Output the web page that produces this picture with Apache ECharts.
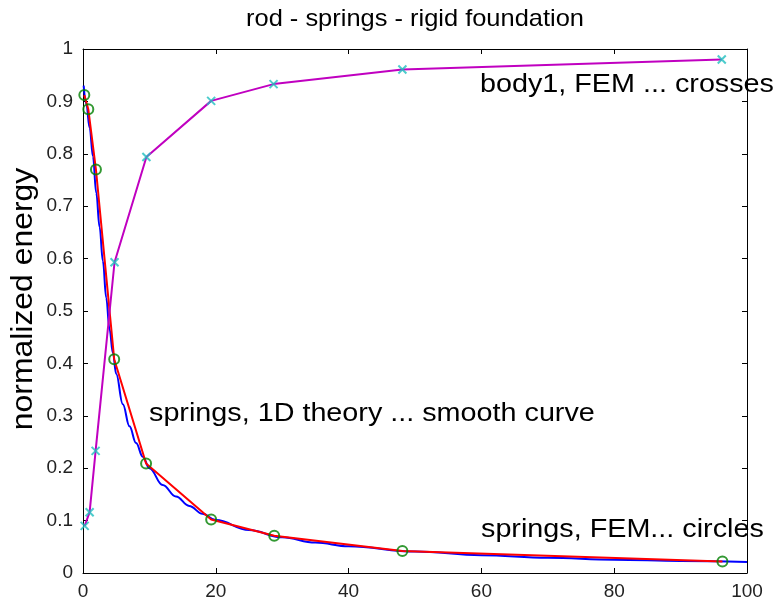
<!DOCTYPE html>
<html>
<head>
<meta charset="utf-8">
<script src="https://cdn.jsdelivr.net/npm/echarts@6/dist/echarts.min.js"></script>
<style>
  html, body { margin: 0; padding: 0; background: #fff; }
  #chart { width: 779px; height: 606px; }
</style>
</head>
<body>
<div id="chart"></div>
<script>
// axis ticks
const xTicks = [0, 20, 40, 60, 80, 100];
const yTicks = [0, 0.1, 0.2, 0.3, 0.4, 0.5, 0.6, 0.7, 0.8, 0.9, 1];

// springs, 1D theory (smooth curve)
const theoryX = [0.1, 0.5, 1, 1.5, 2, 2.5, 3, 3.5, 4, 4.5, 5, 6, 7, 8, 9, 10, 12, 14, 16, 18, 20, 25, 30, 35, 40, 50, 60, 70, 80, 90, 100];
const theoryY = [0.93, 0.895, 0.85, 0.795, 0.725, 0.66, 0.595, 0.525, 0.465, 0.42, 0.38, 0.322, 0.28, 0.248, 0.222, 0.2, 0.168, 0.146, 0.128, 0.113, 0.101, 0.082, 0.068, 0.058, 0.051, 0.041, 0.034, 0.029, 0.0255, 0.023, 0.021];

// springs, FEM (circles)
const femX = [0.2, 0.8, 1.95, 4.7, 9.5, 19.3, 28.8, 48.1, 96.3];
const femY = [0.912, 0.885, 0.77, 0.408, 0.209, 0.102, 0.071, 0.042, 0.022];

// body1, FEM (crosses)
const bodyX = [0.25, 1.0, 1.9, 4.75, 9.55, 19.3, 28.7, 48.1, 96.2];
const bodyY = [0.09, 0.116, 0.233, 0.593, 0.794, 0.901, 0.933, 0.961, 0.98];

const pairs = (xs, ys) => xs.map((x, i) => [x, ys[i]]);

const FONT = "Liberation Sans, Arial, sans-serif";
const crossPath = "path://M0,0L10,10M10,0L0,10";

const chart = echarts.init(document.getElementById("chart"), null, { renderer: "canvas" });

const baseX = {
  type: "value",
  min: xTicks[0],
  max: xTicks[xTicks.length - 1],
  interval: xTicks[1] - xTicks[0],
  splitLine: { show: false },
  axisLine: { show: true, onZero: false, lineStyle: { color: "#000", width: 1 } },
  axisTick: { show: true, inside: true, length: 5, lineStyle: { color: "#000" } },
};
const baseY = {
  type: "value",
  min: yTicks[0],
  max: yTicks[yTicks.length - 1],
  interval: 0.1,
  splitLine: { show: false },
  axisLine: { show: true, onZero: false, lineStyle: { color: "#000", width: 1 } },
  axisTick: { show: true, inside: true, length: 5, lineStyle: { color: "#000" } },
};

// text in the picture is a little wider than plain Arial
const label = (text, x, y, size, extra) => Object.assign({
  type: "text", x: x, y: y, scaleX: 1.15,
  style: { text: text, fill: "#000", font: size + "px " + FONT, textAlign: "left", textVerticalAlign: "middle" },
}, extra || {});

chart.setOption({
  animation: false,
  grid: { left: 83, right: 32, top: 49, bottom: 33 },
  xAxis: [
    Object.assign({}, baseX, {
      position: "bottom",
      axisLabel: { margin: 9, fontFamily: FONT, fontSize: 19, color: "#222" },
    }),
    Object.assign({}, baseX, { position: "top", axisLabel: { show: false } }),
  ],
  yAxis: [
    Object.assign({}, baseY, {
      position: "left",
      axisLabel: {
        margin: 10, fontFamily: FONT, fontSize: 19, color: "#222",
        formatter: (v) => String(Math.round(v * 10) / 10),
      },
    }),
    Object.assign({}, baseY, { position: "right", axisLabel: { show: false } }),
  ],
  graphic: [
    {
      type: "text", x: 415, y: 19, scaleX: 1.06,
      style: { text: "rod - springs - rigid foundation", fill: "#000", font: "24px " + FONT, textAlign: "center", textVerticalAlign: "middle" },
    },
    {
      type: "text", x: 24, y: 299, rotation: Math.PI / 2, scaleX: 1.1,
      style: { text: "normalized energy", fill: "#000", font: "29px " + FONT, textAlign: "center", textVerticalAlign: "middle" },
    },
    label("body1, FEM ... crosses", 480, 85, 25),
    label("springs, 1D theory ... smooth curve", 149, 414, 25),
    label("springs, FEM... circles", 481, 530, 25),
  ],
  series: [
    {
      name: "1D theory",
      type: "line",
      data: pairs(theoryX, theoryY),
      showSymbol: false,
      smooth: 0.4,
      smoothMonotone: "x",
      lineStyle: { color: "#0000ff", width: 2 },
      z: 2,
    },
    {
      name: "springs FEM",
      type: "line",
      data: pairs(femX, femY),
      showSymbol: false,
      lineStyle: { color: "#ff0000", width: 2 },
      z: 3,
    },
    {
      name: "springs FEM circles",
      type: "scatter",
      data: pairs(femX, femY),
      symbol: "circle",
      symbolSize: 10,
      itemStyle: { color: "rgba(0,0,0,0)", borderColor: "#008000", borderWidth: 2 },
      z: 4,
    },
    {
      name: "body1 FEM",
      type: "line",
      data: pairs(bodyX, bodyY),
      showSymbol: false,
      lineStyle: { color: "#c000c0", width: 2 },
      z: 3,
    },
    {
      name: "body1 FEM crosses",
      type: "scatter",
      data: pairs(bodyX, bodyY),
      symbol: crossPath,
      symbolSize: 8,
      itemStyle: { color: "rgba(0,0,0,0)", borderColor: "#1fbfbf", borderWidth: 2 },
      z: 5,
    },
  ],
});
</script>
</body>
</html>
